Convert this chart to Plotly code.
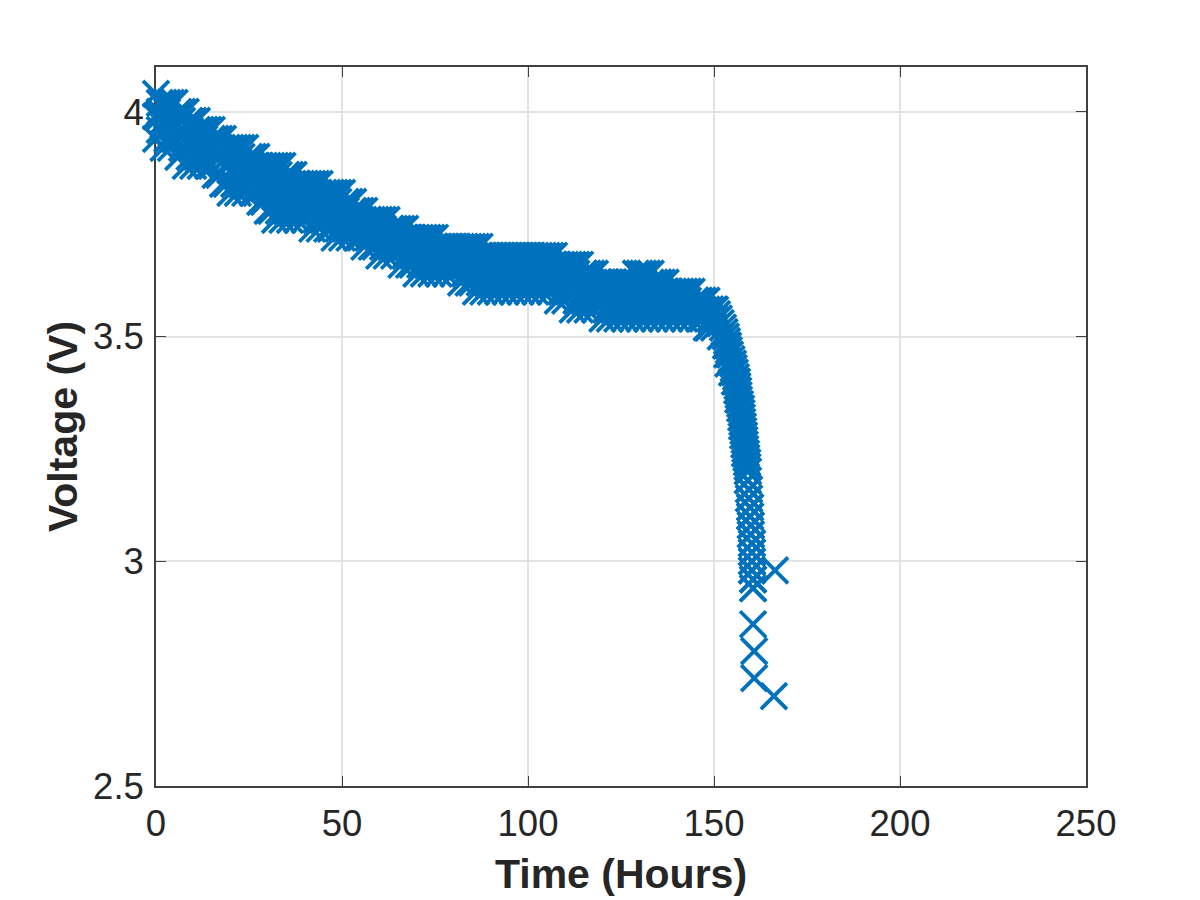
import plotly.graph_objects as go

time_even = [0, 2, 4, 6, 8, 10, 12, 14, 16, 18, 20, 22, 24, 26, 28, 30, 32, 34, 36, 38, 40, 42, 44, 46, 48,
             50, 52, 54, 56, 58, 60, 62, 64, 66, 68, 70, 72, 74, 76, 78, 80, 82, 84, 86, 88, 90, 92, 94, 96, 98,
             100, 102, 104, 106, 108, 110, 112, 114, 116, 118, 120, 122, 124, 126, 128, 130, 132, 134, 136, 138,
             140, 142, 144, 146, 148, 150]
volts_high_even = [4.04, 4.02, 4.02, 4.00, 4.00, 3.98, 3.96, 3.96, 3.94, 3.94, 3.92, 3.92, 3.92, 3.90, 3.88, 3.88, 3.88, 3.88, 3.86, 3.84,
                   3.84, 3.84, 3.84, 3.82, 3.82, 3.82, 3.80, 3.78, 3.78, 3.76, 3.76, 3.76, 3.74, 3.74, 3.72, 3.72, 3.72, 3.72, 3.70, 3.70,
                   3.70, 3.70, 3.70, 3.70, 3.68, 3.68, 3.68, 3.68, 3.68, 3.68, 3.68, 3.68, 3.68, 3.68, 3.66, 3.66, 3.66, 3.66, 3.64, 3.64,
                   3.62, 3.62, 3.62, 3.62, 3.62, 3.64, 3.64, 3.62, 3.62, 3.60, 3.60, 3.60, 3.60, 3.58, 3.58, 3.56]
volts_mid_even = [3.99, 3.98, 3.97, 3.95, 3.94, 3.93, 3.92, 3.92, 3.90, 3.89, 3.87, 3.87, 3.87, 3.86, 3.84, 3.83, 3.82, 3.82, 3.81, 3.80,
                  3.80, 3.79, 3.79, 3.78, 3.77, 3.77, 3.76, 3.75, 3.74, 3.73, 3.72, 3.72, 3.71, 3.70, 3.69, 3.68, 3.68, 3.68, 3.67, 3.67,
                  3.67, 3.66, 3.66, 3.65, 3.64, 3.64, 3.64, 3.64, 3.64, 3.64, 3.64, 3.64, 3.64, 3.64, 3.62, 3.62, 3.61, 3.61, 3.60, 3.60,
                  3.59, 3.59, 3.59, 3.59, 3.59, 3.59, 3.59, 3.59, 3.58, 3.57, 3.57, 3.57, 3.57, 3.56, 3.55, 3.54]
volts_low_even = [3.94, 3.92, 3.92, 3.90, 3.88, 3.88, 3.88, 3.88, 3.86, 3.84, 3.82, 3.82, 3.82, 3.82, 3.80, 3.78, 3.76, 3.76, 3.76, 3.76,
                  3.76, 3.74, 3.74, 3.74, 3.72, 3.72, 3.72, 3.72, 3.70, 3.70, 3.68, 3.68, 3.68, 3.66, 3.66, 3.64, 3.64, 3.64, 3.64, 3.64,
                  3.64, 3.62, 3.62, 3.60, 3.60, 3.60, 3.60, 3.60, 3.60, 3.60, 3.60, 3.60, 3.60, 3.60, 3.58, 3.58, 3.56, 3.56, 3.56, 3.56,
                  3.54, 3.54, 3.54, 3.54, 3.54, 3.54, 3.54, 3.54, 3.54, 3.54, 3.54, 3.54, 3.54, 3.54, 3.52, 3.52]

time_odd = [1, 3, 5, 7, 9, 11, 13, 15, 17, 19, 21, 23, 25, 27, 29, 31, 33, 35, 37, 39, 41, 43, 45, 47, 49,
            51, 53, 55, 57, 59, 61, 63, 65, 67, 69, 71, 73, 75, 77, 79, 81, 83, 85, 87, 89, 91, 93, 95, 97, 99,
            101, 103, 105, 107, 109, 111, 113, 115, 117, 119, 121, 123, 125, 127, 129, 131, 133, 135, 137, 139,
            141, 143, 145, 147, 149]
volts_high_odd = [4.02, 4.02, 4.02, 4.00, 3.98, 3.98, 3.96, 3.96, 3.94, 3.92, 3.92, 3.92, 3.90, 3.90, 3.88, 3.88, 3.88, 3.86, 3.86, 3.84,
                  3.84, 3.84, 3.82, 3.82, 3.82, 3.80, 3.80, 3.78, 3.76, 3.76, 3.76, 3.74, 3.74, 3.74, 3.72, 3.72, 3.72, 3.72, 3.70, 3.70,
                  3.70, 3.70, 3.70, 3.70, 3.68, 3.68, 3.68, 3.68, 3.68, 3.68, 3.68, 3.68, 3.68, 3.68, 3.66, 3.66, 3.66, 3.64, 3.64, 3.62,
                  3.62, 3.62, 3.62, 3.62, 3.64, 3.64, 3.64, 3.62, 3.62, 3.60, 3.60, 3.60, 3.58, 3.58, 3.56]
volts_upper_odd = [4.00, 4.00, 3.98, 3.98, 3.96, 3.96, 3.94, 3.94, 3.92, 3.90, 3.90, 3.90, 3.88, 3.88, 3.86, 3.86, 3.86, 3.84, 3.82, 3.82,
                   3.82, 3.82, 3.80, 3.80, 3.80, 3.78, 3.78, 3.76, 3.76, 3.74, 3.74, 3.74, 3.72, 3.72, 3.70, 3.70, 3.70, 3.70, 3.68, 3.68,
                   3.68, 3.68, 3.68, 3.68, 3.66, 3.66, 3.66, 3.66, 3.66, 3.66, 3.66, 3.66, 3.66, 3.66, 3.64, 3.64, 3.64, 3.64, 3.62, 3.62,
                   3.62, 3.62, 3.62, 3.62, 3.62, 3.62, 3.62, 3.62, 3.60, 3.58, 3.58, 3.58, 3.58, 3.56, 3.56]
volts_mid_odd = [3.99, 3.98, 3.97, 3.95, 3.93, 3.93, 3.92, 3.91, 3.90, 3.88, 3.87, 3.87, 3.86, 3.85, 3.83, 3.83, 3.82, 3.81, 3.81, 3.80,
                 3.80, 3.79, 3.78, 3.77, 3.77, 3.76, 3.76, 3.75, 3.73, 3.73, 3.72, 3.71, 3.70, 3.70, 3.68, 3.68, 3.68, 3.68, 3.67, 3.67,
                 3.67, 3.66, 3.65, 3.65, 3.64, 3.64, 3.64, 3.64, 3.64, 3.64, 3.64, 3.64, 3.64, 3.64, 3.62, 3.62, 3.61, 3.60, 3.60, 3.60,
                 3.59, 3.59, 3.59, 3.59, 3.59, 3.59, 3.59, 3.59, 3.58, 3.57, 3.57, 3.57, 3.57, 3.55, 3.54]
volts_lower_odd = [3.96, 3.94, 3.94, 3.92, 3.90, 3.90, 3.90, 3.88, 3.86, 3.84, 3.84, 3.84, 3.84, 3.82, 3.80, 3.78, 3.78, 3.78, 3.78, 3.78,
                   3.78, 3.76, 3.76, 3.74, 3.74, 3.74, 3.74, 3.72, 3.72, 3.70, 3.70, 3.70, 3.70, 3.68, 3.66, 3.66, 3.66, 3.66, 3.66, 3.66,
                   3.66, 3.64, 3.62, 3.62, 3.62, 3.62, 3.62, 3.62, 3.62, 3.62, 3.62, 3.62, 3.62, 3.62, 3.60, 3.60, 3.58, 3.58, 3.58, 3.58,
                   3.56, 3.56, 3.56, 3.56, 3.56, 3.56, 3.56, 3.56, 3.56, 3.56, 3.56, 3.56, 3.56, 3.54, 3.54]

knee_volts = [3.56, 3.54, 3.52, 3.50, 3.48, 3.46, 3.44, 3.42, 3.40, 3.38, 3.36, 3.34, 3.32, 3.30, 3.28, 3.26,
              3.24, 3.22, 3.20, 3.18, 3.16, 3.14, 3.12, 3.10, 3.08, 3.06, 3.04, 3.02, 3.00, 2.98, 2.96, 2.94]
knee_right = [150.3, 151.3, 152.4, 153.2, 153.8, 154.3, 155.1, 155.6, 156.2, 156.5, 156.7, 157.3, 157.5, 157.8, 158.1, 158.3,
              158.6, 158.9, 159.1, 159.1, 159.4, 159.4, 159.7, 159.7, 159.9, 159.9, 160.2, 160.2, 160.2, 160.2, 160.5, 160.5]
knee_left = [148.0, 149.0, 148.5, 151.8, 153.2, 153.5, 153.8, 154.8, 155.6, 156.2, 156.5, 157.0, 157.3, 157.5, 157.8, 158.1,
             158.3, 158.9, 159.1, 159.1, 159.4, 159.4, 159.7, 159.7, 159.9, 159.9, 160.2, 160.2, 160.2, 160.2, 160.5, 160.5]
half_volts = [3.55, 3.53, 3.51, 3.49, 3.47, 3.45, 3.43, 3.41, 3.39, 3.37, 3.35, 3.33, 3.31, 3.29, 3.27, 3.25, 3.23, 3.21]
half_time = [150.8, 151.8, 152.8, 153.5, 154.0, 154.7, 155.3, 155.9, 156.3, 156.6, 157.0, 157.4, 157.6, 157.9, 158.2, 158.4, 158.7, 159.0]

tail_time = [160.5, 160.8, 160.8, 166.1, 166.4]
tail_volts = [2.86, 2.80, 2.74, 2.70, 2.98]

x_ticks = [0, 50, 100, 150, 200, 250]
y_ticks = [2.5, 3, 3.5, 4]
y_tick_labels = ["2.5", "3", "3.5", "4"]

BLUE = "#0072BD"
INK = "#262626"
FRAME = "#404040"
GRID = "#e2e2e2"
FONT = "Liberation Sans"

all_time = (time_even * 3 + time_odd * 4 + knee_right + knee_left + half_time + tail_time)
all_volts = (volts_high_even + volts_mid_even + volts_low_even
             + volts_high_odd + volts_upper_odd + volts_mid_odd + volts_lower_odd
             + knee_volts + knee_volts + half_volts + tail_volts)

fig = go.Figure(go.Scatter(
    x=all_time, y=all_volts, mode="markers", cliponaxis=False,
    marker=dict(symbol="x-thin", size=26, color=BLUE, line=dict(color=BLUE, width=3.8)),
))

axis = dict(showline=True, linecolor=FRAME, linewidth=1.7, mirror="allticks", ticks="inside", ticklen=10,
            tickwidth=1.3, tickcolor=FRAME, showgrid=True, gridcolor=GRID, gridwidth=1.7, zeroline=False,
            layer="below traces", tickfont=dict(family=FONT, size=36.5, color=INK))
fig.update_xaxes(range=[0, 250], tickvals=x_ticks, ticklabelstandoff=4,
                 title=dict(text="<b>Time (Hours)</b>", standoff=17, font=dict(family=FONT, size=41, color=INK)), **axis)
fig.update_yaxes(range=[2.5, 4.1], tickvals=y_ticks, ticktext=y_tick_labels, ticklabelstandoff=3,
                 title=dict(text="<b>Voltage (V)</b>", standoff=3, font=dict(family=FONT, size=41, color=INK)), **axis)
fig.update_layout(width=1200, height=900, autosize=False, showlegend=False,
                  margin=dict(l=156, r=114, t=67, b=114, pad=0),
                  paper_bgcolor="white", plot_bgcolor="white", font=dict(family=FONT, color=INK))
fig.write_html("out.html", post_script="document.body.style.margin='0';", config=dict(displayModeBar=False))
